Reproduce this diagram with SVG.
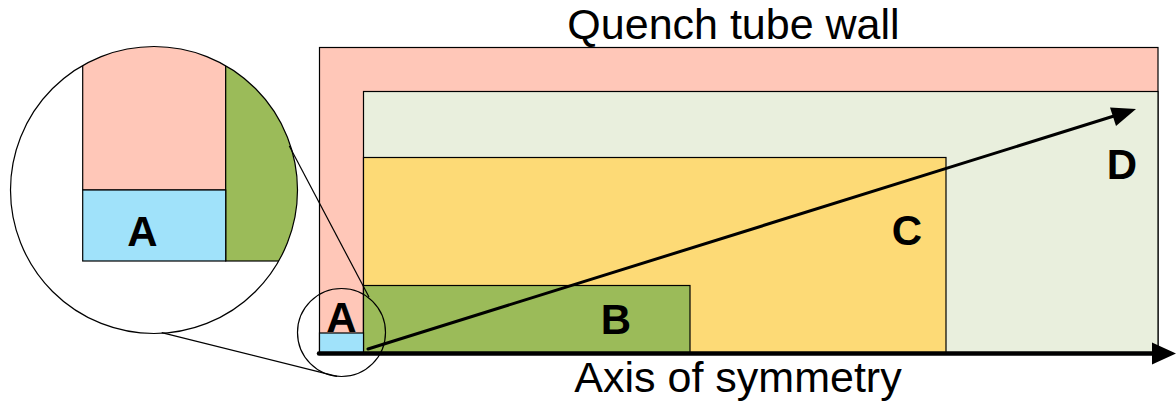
<svg xmlns="http://www.w3.org/2000/svg" width="1176" height="404" viewBox="0 0 1176 404">
<style>
.r{stroke:#000;stroke-width:1.2}
.thin{fill:none;stroke:#000;stroke-width:1.2}
.lbl{font-family:"Liberation Sans",Arial,sans-serif;font-weight:bold;font-size:42px;text-anchor:middle;fill:#000}
.ttl{font-family:"Liberation Sans",Arial,sans-serif;font-size:43px;text-anchor:middle;fill:#000}
</style>
<defs>
<clipPath id="zc"><circle cx="154" cy="190" r="143.5"/></clipPath>
</defs>
<rect width="1176" height="404" fill="#fff"/>
<g id="wall"><rect class="r" x="319.5" y="47.5" width="838.5" height="306" fill="#FFC7B8"/></g>
<g id="D"><rect class="r" x="363.5" y="91.5" width="794.5" height="262" fill="#E9EFDD"/><text class="lbl" x="1122" y="179">D</text></g>
<g id="C"><rect class="r" x="363.5" y="157.5" width="582.5" height="196" fill="#FDDA76"/><text class="lbl" x="907" y="245">C</text></g>
<g id="B"><rect class="r" x="363.5" y="285.5" width="326.5" height="68" fill="#9BBB59"/><text class="lbl" x="616" y="334">B</text></g>
<g id="A"><rect class="r" x="319.5" y="333" width="44" height="20.5" fill="#A0E2FA"/><text class="lbl" x="341.5" y="332">A</text></g>
<g id="zoom">
<g clip-path="url(#zc)">
<rect class="r" x="82.7" y="20" width="143" height="170" fill="#FFC7B8"/>
<rect class="r" x="225.7" y="20" width="100" height="241" fill="#9BBB59"/>
<rect class="r" x="82.7" y="190" width="143" height="71" fill="#A0E2FA"/>
</g>
<circle class="thin" cx="154" cy="190" r="143.5"/>
<text class="lbl" x="142.5" y="245.5">A</text>
</g>
<g id="lens"><circle class="thin" cx="341.5" cy="332.5" r="44"/></g>
<g id="connectors">
<line class="thin" x1="289.3" y1="146" x2="369" y2="297"/>
<line class="thin" x1="161.7" y1="332.7" x2="337" y2="376.3"/>
<line x1="319" y1="353.5" x2="1155" y2="353.5" stroke="#000" stroke-width="4.5" stroke-linecap="round"/>
<polygon points="1176,353.5 1152,342.5 1152,364.5" fill="#000"/>
<line x1="368" y1="349" x2="1114" y2="116" stroke="#000" stroke-width="3" stroke-linecap="round"/>
<polygon points="1136,109 1110,107.5 1116,126" fill="#000"/>
</g>
<g id="titles">
<text class="ttl" x="733.5" y="39">Quench tube wall</text>
<text class="ttl" x="738" y="392">Axis of symmetry</text>
</g>
</svg>
